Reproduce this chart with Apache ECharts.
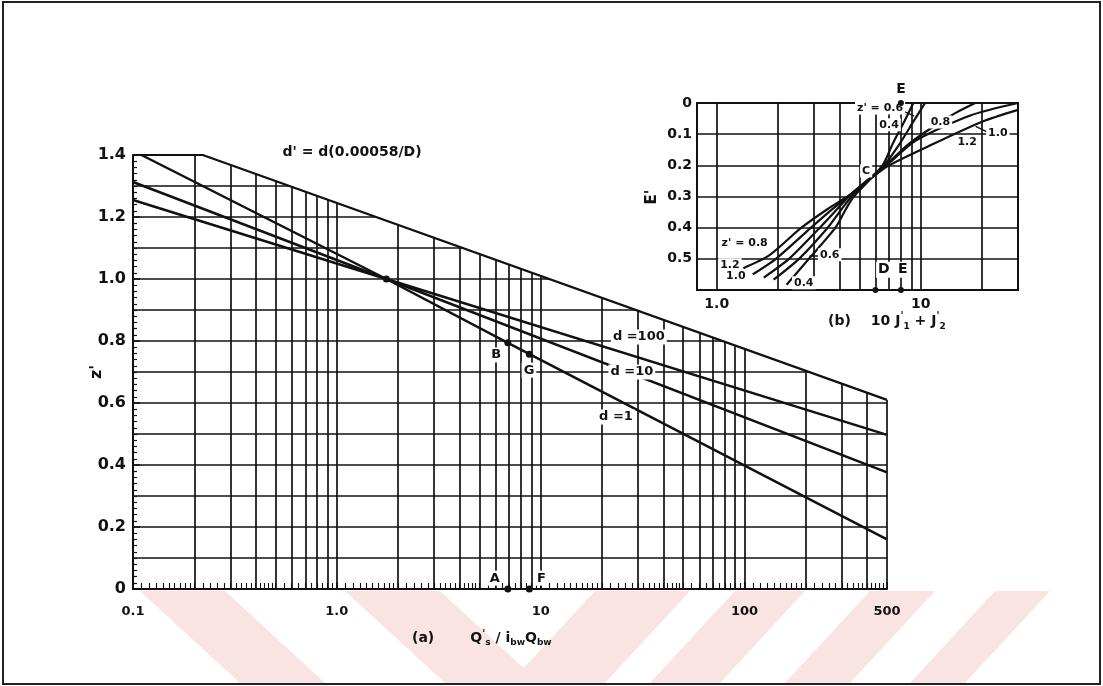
<!DOCTYPE html>
<html><head><meta charset="utf-8">
<script src="https://cdn.jsdelivr.net/npm/echarts@6/dist/echarts.min.js"></script>
<style>html,body{margin:0;padding:0;background:#fff}#c{width:1103px;height:686px}</style>
</head><body><div id="c"></div>
<script>
// ---------- chart (a) data ----------
const mainXTicks = [0.1, 1, 10, 100, 500];
const mainXTickLabels = ['0.1', '1.0', '10', '100', '500'];
const mainVGrid = [0.2,0.3,0.4,0.5,0.6,0.7,0.8,0.9,1,2,3,4,5,6,7,8,9,10,20,30,40,50,60,70,80,90,100,200,300,400,500];
const mainHGrid = [0.1,0.2,0.3,0.4,0.5,0.6,0.7,0.8,0.9,1.0,1.1,1.2,1.3,1.4];
const boundary = [[0.1,1.4],[0.22,1.4],[500,0.61]];
const curveD1 = [[0.11,1.4],[1.75,1.0],[6.9,0.794],[500,0.16]];
const curveD10 = [[0.1,1.313],[1.75,1.0],[500,0.376]];
const curveD100 = [[0.1,1.255],[1.75,1.0],[500,0.497]];
const mainPoints = [[1.75,1.0],[6.9,0.794],[8.8,0.757],[6.9,0],[8.8,0]];
const mainNotes = [
  {t:'d =100', at:[30.3,0.813]},
  {t:'d =10', at:[28,0.70]},
  {t:'d =1', at:[23.4,0.555]},
  {t:'B', at:[6.05,0.755]},
  {t:'G', at:[8.76,0.706]},
  {t:'A', at:[5.95,0.035]},
  {t:'F', at:[10.1,0.035]}
];
// ---------- chart (b) data ----------
const insetXTicks = [1, 10];
const insetXTickLabels = ['1.0', '10'];
const insetVGrid = [1,2,3,4,5,6,7,8,9,10,20];
const insetHGrid = [0.1,0.2,0.3,0.4,0.5];
const z12 = [[1.35,0.53],[1.8,0.49],[2.6,0.40],[3.5,0.34],[4.6,0.29],[6.8,0.205],[10.8,0.14],[20,0.06],[30,0.022]];
const z10 = [[1.5,0.55],[1.95,0.50],[2.9,0.40],[3.7,0.34],[4.6,0.29],[6.8,0.20],[9.5,0.12],[17.5,0.04],[30,0.0]];
const z08 = [[1.7,0.56],[2.26,0.50],[3.2,0.40],[3.9,0.34],[4.6,0.29],[6.7,0.20],[9,0.125],[12.5,0.061],[15,0.03],[18.5,0.0]];
const z06 = [[1.9,0.567],[2.53,0.50],[3.5,0.40],[4.1,0.34],[4.65,0.295],[6.6,0.20],[7.9,0.13],[9.2,0.06],[10.5,0.0]];
const z04 = [[2.2,0.583],[2.83,0.50],[3.82,0.40],[4.3,0.34],[4.7,0.30],[6.5,0.20],[7.3,0.13],[8.3,0.06],[9.2,0.0]];
const insetPoints = [[8,0],[6,0.6],[8,0.6]];
const insetNotes = [
  {t:"z' = 0.6", at:[6.32,0.016]},
  {t:'0.4', at:[7.0,0.07]},
  {t:'0.8', at:[12.5,0.061]},
  {t:'1.2', at:[16.9,0.125]},
  {t:'1.0', at:[23.9,0.096]},
  {t:"z' = 0.8", at:[1.37,0.449]},
  {t:'1.2', at:[1.16,0.519]},
  {t:'1.0', at:[1.24,0.554]},
  {t:'0.6', at:[3.58,0.487]},
  {t:'0.4', at:[2.67,0.577]},
  {t:'C', at:[5.4,0.218]}
];
const insetBigNotes = [
  {t:'D', at:[6.6,0.535]},
  {t:'E', at:[8.18,0.535]},
  {t:'E', at:[8.0,-0.045]}
];
const insetLeaders = [
  [[8.2,0.026],[9.3,0.042]],
  [[18.6,0.075],[21,0.092]],
  [[2.85,0.49],[3.2,0.49]]
];

// ---------- helpers ----------
const INK = '#111111';
const FONT = 'DejaVu Sans';
const L = Math.log10;
function boundaryY(x){
  const u = L(x);
  for (let i=1;i<boundary.length;i++){
    const u0=L(boundary[i-1][0]), u1=L(boundary[i][0]);
    if (u <= u1 + 1e-9){
      const t=(u-u0)/(u1-u0);
      return boundary[i-1][1] + t*(boundary[i][1]-boundary[i-1][1]);
    }
  }
  return boundary[boundary.length-1][1];
}
function boundaryX(y){
  for (let i=1;i<boundary.length;i++){
    const y0=boundary[i-1][1], y1=boundary[i][1];
    if (y1 < y0 && y <= y0 + 1e-9 && y >= y1){
      const u0=L(boundary[i-1][0]), u1=L(boundary[i][0]);
      const t=(y-y0)/(y1-y0);
      return Math.pow(10, u0 + t*(u1-u0));
    }
  }
  return boundary[boundary.length-1][0];
}
function tickLabel(ticks, labels){
  return function(v){
    for (let i=0;i<ticks.length;i++) if (Math.abs(L(v)-L(ticks[i]))<1e-6) return labels[i];
    return '';
  };
}
const mainGridSegs = [];
mainVGrid.forEach(x => mainGridSegs.push({coords:[[x,0],[x,boundaryY(x)]]}));
mainHGrid.forEach(y => mainGridSegs.push({coords:[[0.1,y],[boundaryX(y),y]]}));
const rulerSegs = [];
[0.1,1,10,100].forEach(d => {
  const parts = [[1,2,0.1],[2,5,0.2],[5,10,0.5]];
  parts.forEach(p => {
    for (let k=p[0]; k<p[1]-1e-9; k+=p[2]){
      const x = +(d*k).toPrecision(6);
      if (x>0.1 && x<500) rulerSegs.push({coords:[[x,0],[x,0.019]]});
    }
  });
});
const insetGridSegs = [];
insetVGrid.forEach(x => insetGridSegs.push({coords:[[x,0],[x,0.6]]}));
insetHGrid.forEach(y => insetGridSegs.push({coords:[[0.8,y],[30,y]]}));

function curve(data, xi, w){
  return {type:'line', xAxisIndex:xi, yAxisIndex:xi, data:data, symbol:'none', showSymbol:false,
    lineStyle:{color:INK, width:w||2.4, opacity:1}, z:3, silent:true, clip:false};
}
function smoothCurve(data){
  const s = curve(data, 1, 2.2); s.smooth = 0.25; return s;
}
function notes(list, xi, size, bg){
  return {type:'scatter', xAxisIndex:xi, yAxisIndex:xi, symbol:'circle', symbolSize:1, clip:false, z:6, silent:true,
    itemStyle:{color:'rgba(255,255,255,0)', opacity:1},
    data: list.map(n => ({name:n.t, value:n.at})),
    label:{show:true, position:'inside', formatter:'{b}', color:INK, opacity:1, fontFamily:FONT, fontWeight:'bold', fontSize:size,
      backgroundColor: bg ? '#fff' : 'transparent', padding:[1,2]}
  };
}
function segs(data, xi, w){
  return {type:'lines', coordinateSystem:'cartesian2d', xAxisIndex:xi, yAxisIndex:xi, polyline:false, silent:true,
    lineStyle:{color:INK, width:w, opacity:1, curveness:0}, data:data, z:2};
}
function dots(data, xi, size){
  return {type:'scatter', xAxisIndex:xi, yAxisIndex:xi, data:data, symbolSize:size,
    itemStyle:{color:INK, opacity:1}, z:7, clip:false, silent:true};
}

const chart = echarts.init(document.getElementById('c'));
const stripeColor = '#fae3e3';
function band(x1,x2,shift){
  return {type:'polygon', z:-5, shape:{points:[[x1,591],[x2,591],[x2+shift,683],[x1+shift,683]]}, style:{fill:stripeColor}};
}
const option = {
  animation:false,
  backgroundColor:'#fff',
  grid:[
    {left:133, top:155, width:754, height:434, show:false},
    {left:697, top:103, width:321, height:187, show:true, borderColor:INK, borderWidth:2, backgroundColor:'transparent'}
  ],
  xAxis:[
    {type:'log', gridIndex:0, min:0.1, max:500, logBase:10,
      axisLine:{show:true, onZero:false, lineStyle:{color:INK, width:2}},
      axisTick:{show:true, inside:true, length:7, lineStyle:{color:INK, width:1.5}},
      splitLine:{show:false},
      axisLabel:{show:true, margin:16, color:INK, fontFamily:FONT, fontWeight:'bold', fontSize:13,
        showMinLabel:true, showMaxLabel:true, formatter:tickLabel(mainXTicks, mainXTickLabels)}},
    {type:'log', gridIndex:1, min:0.8, max:30, logBase:10,
      axisLine:{show:false}, axisTick:{show:false}, splitLine:{show:false},
      axisLabel:{show:true, margin:7, color:INK, fontFamily:FONT, fontWeight:'bold', fontSize:14,
        showMinLabel:false, showMaxLabel:false, formatter:tickLabel(insetXTicks, insetXTickLabels)}}
  ],
  yAxis:[
    {type:'value', gridIndex:0, min:0, max:1.4, interval:0.2,
      axisLine:{show:true, onZero:false, lineStyle:{color:INK, width:2}},
      axisTick:{show:true, inside:true, length:7, lineStyle:{color:INK, width:1.5}},
      minorTick:{show:true, splitNumber:10, length:4, lineStyle:{color:INK, width:1.2}},
      splitLine:{show:false},
      axisLabel:{margin:7, color:INK, fontFamily:FONT, fontWeight:'bold', fontSize:16,
        formatter: v => v===0 ? '0' : v.toFixed(1)}},
    {type:'value', gridIndex:1, inverse:true, min:0, max:0.6, interval:0.1,
      axisLine:{show:false}, axisTick:{show:false}, splitLine:{show:false},
      axisLabel:{margin:5, color:INK, fontFamily:FONT, fontWeight:'bold', fontSize:14, showMaxLabel:false,
        formatter: v => v===0 ? '0' : (v>0.59 ? '' : v.toFixed(1))}}
  ],
  graphic:[
    {type:'rect', z:10, shape:{x:3, y:2, width:1097, height:682}, style:{fill:'none', stroke:'#222', lineWidth:2}},
    band(140,225,100), band(345,440,100),
    band(595,690,-85), band(735,805,-85), band(870,935,-85), band(995,1050,-85),
    {type:'text', x:352, y:152, style:{text:"d' = d(0.00058/D)", font:'bold 14px "DejaVu Sans"', fill:INK, align:'center', verticalAlign:'middle'}},
    {type:'text', x:97, y:372, rotation:Math.PI/2, style:{text:"z'", font:'bold 16px "DejaVu Sans"', fill:INK, align:'center', verticalAlign:'middle'}},
    {type:'text', x:412, y:638, style:{
      text:"{n|(a)}{g|}{n|Q}{sp|'}{sb|s}{n| / i}{sb|bw}{n|Q}{sb|bw}",
      verticalAlign:'middle', align:'left',
      rich:{
        n:{font:'bold 14px "DejaVu Sans"', fill:INK, lineHeight:18, verticalAlign:'middle'},
        g:{width:36},
        sp:{font:'bold 10px "DejaVu Sans"', fill:INK, lineHeight:18, verticalAlign:'top'},
        sb:{font:'bold 9px "DejaVu Sans"', fill:INK, lineHeight:18, verticalAlign:'bottom'}
      }}},
    {type:'text', x:652, y:197, rotation:Math.PI/2, style:{text:"E'", font:'bold 15px "DejaVu Sans"', fill:INK, align:'center', verticalAlign:'middle'}},
    {type:'text', x:828, y:321, style:{
      text:"{n|(b)}{g|}{n|10 J}{sp|'}{sb|1}{n| + J}{sp|'}{sb|2}",
      verticalAlign:'middle', align:'left',
      rich:{
        n:{font:'bold 14px "DejaVu Sans"', fill:INK, lineHeight:20, verticalAlign:'middle'},
        g:{width:20},
        sp:{font:'bold 10px "DejaVu Sans"', fill:INK, lineHeight:20, verticalAlign:'top'},
        sb:{font:'bold 9px "DejaVu Sans"', fill:INK, lineHeight:20, verticalAlign:'bottom'}
      }}}
  ],
  series:[
    segs(mainGridSegs, 0, 1.7),
    segs(rulerSegs, 0, 1.1),
    curve(boundary, 0, 2.2),
    curve(curveD100, 0, 2.5),
    curve(curveD10, 0, 2.5),
    curve(curveD1, 0, 2.5),
    dots(mainPoints, 0, 7),
    notes(mainNotes, 0, 13, true),
    segs(insetGridSegs, 1, 1.7),
    smoothCurve(z12), smoothCurve(z10), smoothCurve(z08), smoothCurve(z06), smoothCurve(z04),
    segs(insetLeaders.map(c => ({coords:c})), 1, 1.5),
    dots(insetPoints, 1, 6),
    notes(insetNotes, 1, 11, true),
    notes(insetBigNotes, 1, 14, true)
  ]
};
chart.setOption(option);
</script>
</body></html>
